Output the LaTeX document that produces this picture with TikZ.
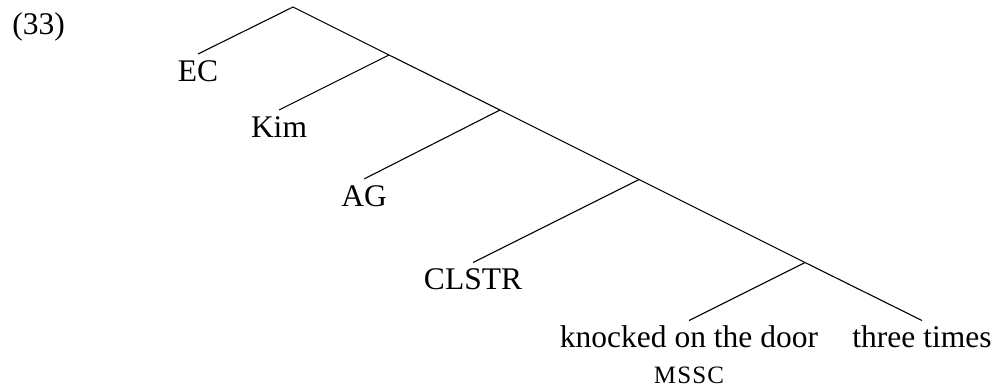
\documentclass[tikz,border=0pt]{standalone}
\usepackage{fontspec}
\setmainfont{Liberation Serif}
\begin{document}
\begin{tikzpicture}[x=0.5pt,y=-0.5pt,
  every node/.style={font=\fontsize{15.75}{19}\selectfont},
  leaf/.style={anchor=north,inner sep=0pt,text height=13.5pt,text depth=0pt},
  branch/.style={line width=0.55pt}]
\useasboundingbox (0,0) rectangle (995,387);
\node[anchor=base west,inner sep=0pt] (num) at (12,34) {(33)};
\coordinate (root) at (293,7);
\coordinate (n1) at (389,55);
\coordinate (n2) at (500,110);
\coordinate (n3) at (639,179.5);
\coordinate (n4) at (805,262.5);
\node[leaf] (ec) at (198,54) {EC};
\node[leaf] (kim) at (279,110) {Kim};
\node[leaf] (ag) at (364,179) {AG};
\node[leaf] (clstr) at (473,262.5) {CLSTR};
\node[leaf] (knock) at (689,320.5) {knocked on the door};
\node[leaf] (three) at (922,320.5) {three times};
\node[anchor=base,inner sep=0pt,font=\fontsize{12.5}{15}\selectfont] (mssc) at (689,383) {M\kern0.6pt S\kern0.6pt S\kern0.6pt C};
\draw[branch] (ec.north) -- (root) -- (n1) -- (n2) -- (n3) -- (n4) -- (three.north);
\draw[branch] (n1) -- (kim.north);
\draw[branch] (n2) -- (ag.north);
\draw[branch] (n3) -- (clstr.north);
\draw[branch] (n4) -- (knock.north);
\end{tikzpicture}
\end{document}
